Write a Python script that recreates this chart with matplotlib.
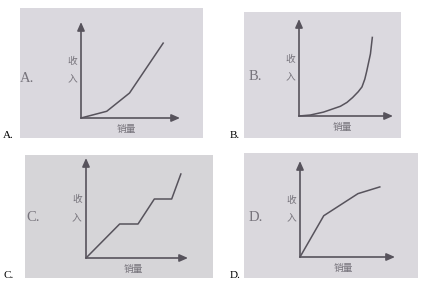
import matplotlib
matplotlib.use("Agg")
import matplotlib.pyplot as plt

plt.rcParams["font.family"] = ["Noto Sans CJK SC", "DejaVu Sans"]

# income vs sales curves, units: axis arrows run 0..10
a_sales = [0, 2.6, 4.9, 8.3]
a_income = [0, 0.7, 2.6, 7.8]

b_sales = [0, 1.2, 2.6, 3.5, 4.4, 5.1, 5.7, 6.3, 6.7, 7.0, 7.2, 7.4, 7.6, 7.8]
b_income = [0, 0.1, 0.4, 0.7, 1.0, 1.4, 1.9, 2.5, 3.0, 3.8, 4.6, 5.5, 6.4, 8.1]

c_sales = [0, 3.3, 5.1, 6.7, 8.4, 9.3]
c_income = [0, 3.4, 3.4, 5.9, 5.9, 8.4]

d_sales = [0, 2.5, 6.1, 8.4]
d_income = [0, 4.3, 6.6, 7.3]

letters = ["A.", "B.", "C.", "D."]
ylabel_chars = ["收", "入"]
xlabel = "销量"

W, H = 446, 287
fig = plt.figure(figsize=(W / 100, H / 100), dpi=100)
fig.patch.set_facecolor("white")

line_col = "#57535c"
text_col = "#77747c"


def panel(rect, origin, span, sales, income, letter, letter_x, outer_xy, bg):
    x0, x1, y0, y1 = rect  # pixels, y measured from top
    ax = fig.add_axes([x0 / W, 1 - y1 / H, (x1 - x0) / W, (y1 - y0) / H])
    ax.set_facecolor(bg)
    sx, sy = span[0] / 10, span[1] / 10
    ax.set_xlim(-(origin[0] - x0) / sx, (x1 - origin[0]) / sx)
    ax.set_ylim(-(y1 - origin[1]) / sy, (origin[1] - y0) / sy)
    for s in ax.spines.values():
        s.set_visible(False)
    ax.set_xticks([])
    ax.set_yticks([])

    arrow = dict(arrowstyle="-|>,head_length=0.5,head_width=0.22",
                 color=line_col, lw=1.2, shrinkA=0, shrinkB=0)
    ax.annotate("", xy=(10, 0), xytext=(0, 0), arrowprops=arrow)
    ax.annotate("", xy=(0, 10), xytext=(0, 0), arrowprops=arrow)
    ax.plot(sales, income, color=line_col, lw=1.1, solid_joinstyle="round")

    ax.text(letter_x, 4.1, letter, fontsize=10.5, color=text_col,
            family=["Liberation Serif"], ha="center", va="center")
    ax.text(-0.9, 5.9, ylabel_chars[0], fontsize=7, color=text_col,
            ha="center", va="center")
    ax.text(-0.9, 4.0, ylabel_chars[1], fontsize=7, color=text_col,
            ha="center", va="center")
    ax.text(4.6, -1.1, xlabel, fontsize=7, color=text_col,
            ha="center", va="center")

    fig.text(outer_xy[0] / W, 1 - outer_xy[1] / H, letter, fontsize=8,
             family=["Liberation Serif"], color="black", ha="left", va="center")


panel((20, 203, 8, 138), (81, 118), (99, 96), a_sales, a_income,
      letters[0], -5.4, (3, 135), "#dad8de")
panel((244, 401, 12, 138), (299, 116), (94, 97), b_sales, b_income,
      letters[1], -4.6, (230, 136), "#dbd9df")
panel((25, 213, 155, 278), (86, 258), (102, 100), c_sales, c_income,
      letters[2], -5.2, (3, 276), "#d6d5d8")
panel((244, 418, 153, 278), (300, 257), (95, 96), d_sales, d_income,
      letters[3], -4.7, (230, 276), "#dad8dd")

fig.savefig("out.png", dpi=100)
